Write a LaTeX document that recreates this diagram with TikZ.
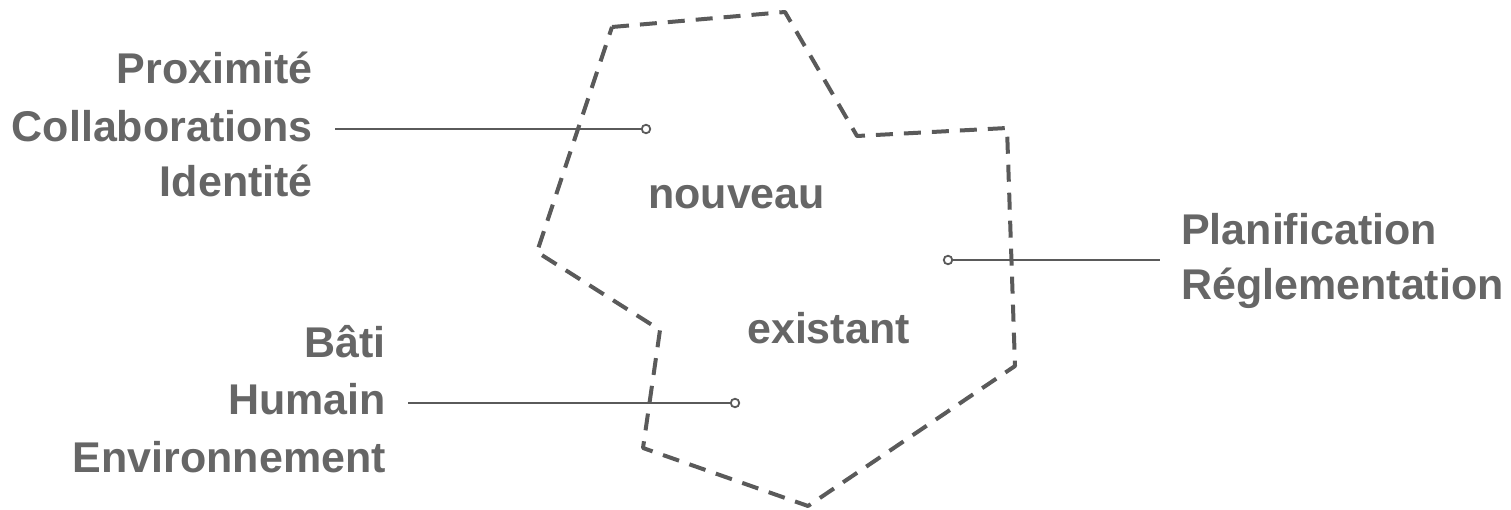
\documentclass[tikz,border=0pt]{standalone}
\usepackage{fontspec}
\setmainfont{Liberation Sans}
\definecolor{txt}{HTML}{666666}
\definecolor{ln}{HTML}{5A5A5A}
\begin{document}
\begin{tikzpicture}[x=1pt,y=-1pt,
  lbl/.style={font=\fontsize{43}{50}\selectfont\bfseries, text=txt, inner sep=0pt},
  dot/.style={circle, draw=ln, fill=white, line width=1.8pt, inner sep=0pt, minimum size=8.5pt},
  conn/.style={draw=ln, line width=1.8pt},
  border/.style={draw=ln, line width=4pt, dash pattern=on 17pt off 11pt, line join=round}]
\useasboundingbox (0,0) rectangle (1511,510);
% polygon
\coordinate (p1) at (612,27);
\coordinate (p2) at (785,12);
\coordinate (p3) at (857,136);
\coordinate (p4) at (1007,128);
\coordinate (p5) at (1015,366);
\coordinate (p6) at (808,506);
\coordinate (p7) at (643,448);
\coordinate (p8) at (660,330);
\coordinate (p9) at (537,252);
\draw[border] (p1) -- (p2) -- (p3) -- (p4) -- (p5) -- (p6) -- (p7) -- (p8) -- (p9) -- cycle;
% labels left top
\node[lbl, anchor=base east] (prox) at (313,84) {Proximité};
\node[lbl, anchor=base east] (coll) at (313,142) {Collaborations};
\node[lbl, anchor=base east] (iden) at (313,197) {Identité};
% left bottom
\node[lbl, anchor=base east] (bati) at (386,357) {Bâti};
\node[lbl, anchor=base east] (huma) at (386,414) {Humain};
\node[lbl, anchor=base east] (envi) at (386,472) {Environnement};
% right
\node[lbl, anchor=base west] (plan) at (1181,245) {Planification};
\node[lbl, anchor=base west] (regl) at (1181,300) {Réglementation};
% inner
\node[lbl, anchor=base west] (nouv) at (648,209) {nouveau};
\node[lbl, anchor=base west] (exis) at (747,343) {existant};
% connectors
\node[dot] (d1) at (646,129) {};
\node[dot] (d2) at (948,260) {};
\node[dot] (d3) at (735,403) {};
\coordinate (e1) at (335,129);
\coordinate (e2) at (1160,260);
\coordinate (e3) at (408,403);
\draw[conn] (e1) -- (d1);
\draw[conn] (d2) -- (e2);
\draw[conn] (e3) -- (d3);
\end{tikzpicture}
\end{document}
